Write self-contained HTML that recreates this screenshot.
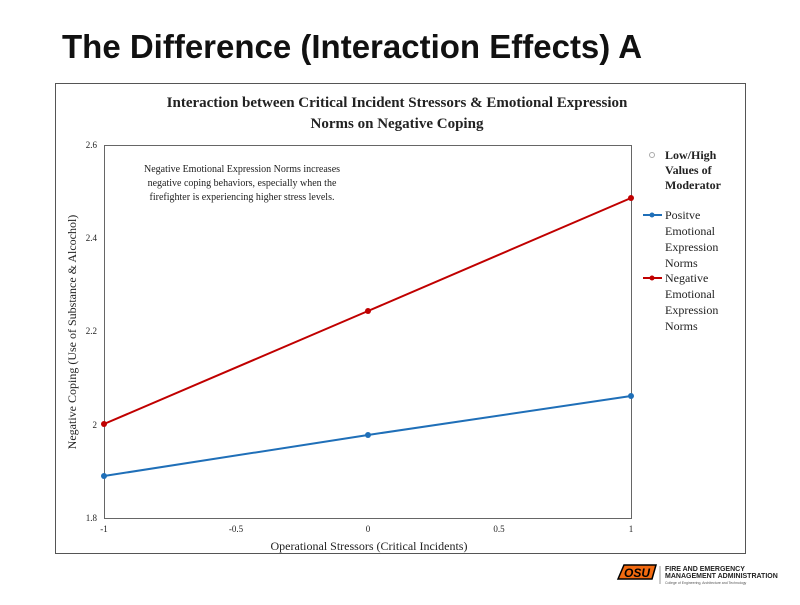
<!DOCTYPE html>
<html><head><style>
body{margin:0;width:800px;height:600px;background:#fff;overflow:hidden;font-family:"Liberation Sans",sans-serif}
</style></head><body>
<svg width="800" height="600" xmlns="http://www.w3.org/2000/svg">
<text x="62" y="58" font-family="Liberation Sans" font-weight="bold" font-size="33" fill="#111">The Difference (Interaction Effects) A</text>
<rect x="55.5" y="83.5" width="690" height="470" fill="#fff" stroke="#555" stroke-width="1"/>
<g font-family="Liberation Serif" fill="#222">
<text x="397" y="107" text-anchor="middle" font-size="15" font-weight="bold">Interaction between Critical Incident Stressors &amp; Emotional Expression</text>
<text x="397" y="128" text-anchor="middle" font-size="15" font-weight="bold">Norms on Negative Coping</text>
<rect x="104.5" y="145.5" width="527" height="373" fill="none" stroke="#666"/>
<g font-size="9" text-anchor="end">
<text x="97" y="148">2.6</text><text x="97" y="241">2.4</text><text x="97" y="334">2.2</text><text x="97" y="428">2</text><text x="97" y="521">1.8</text>
</g>
<g font-size="9" text-anchor="middle">
<text x="104" y="532">-1</text><text x="236" y="532">-0.5</text><text x="368" y="532">0</text><text x="499" y="532">0.5</text><text x="631" y="532">1</text>
</g>
<text x="369" y="550" text-anchor="middle" font-size="12">Operational Stressors (Critical Incidents)</text>
<text transform="translate(76,332) rotate(-90)" text-anchor="middle" font-size="12">Negative Coping (Use of Substance &amp; Alcochol)</text>
<g font-size="10" text-anchor="middle">
<text x="242" y="172">Negative Emotional Expression Norms increases</text>
<text x="242" y="186">negative coping behaviors, especially when the</text>
<text x="242" y="200">firefighter is experiencing higher stress levels.</text>
</g>
<polyline points="104,476 368,435 631,396" fill="none" stroke="#1f6fb8" stroke-width="2"/>
<polyline points="104,424 368,311 631,198" fill="none" stroke="#c00000" stroke-width="2"/>
<g fill="#1f6fb8"><circle cx="104" cy="476" r="3"/><circle cx="368" cy="435" r="3"/><circle cx="631" cy="396" r="3"/></g>
<g fill="#c00000"><circle cx="104" cy="424" r="3"/><circle cx="368" cy="311" r="3"/><circle cx="631" cy="198" r="3"/></g>
<circle cx="652" cy="155" r="2.5" fill="none" stroke="#aaa"/>
<g font-size="12" font-weight="bold"><text x="665" y="159">Low/High</text><text x="665" y="174">Values of</text><text x="665" y="189">Moderator</text></g>
<line x1="643" y1="215" x2="662" y2="215" stroke="#1f6fb8" stroke-width="2"/><circle cx="652" cy="215" r="2.5" fill="#1f6fb8"/>
<line x1="643" y1="278" x2="662" y2="278" stroke="#c00000" stroke-width="2"/><circle cx="652" cy="278" r="2.5" fill="#c00000"/>
<g font-size="12"><text x="665" y="219">Positve</text><text x="665" y="235">Emotional</text><text x="665" y="251">Expression</text><text x="665" y="267">Norms</text>
<text x="665" y="282">Negative</text><text x="665" y="298">Emotional</text><text x="665" y="314">Expression</text><text x="665" y="330">Norms</text></g>
</g>
<g transform="translate(618,563)">
<path d="M0,16 L6,2 L38,2 L34,16 Z" fill="#f26a10" stroke="#000" stroke-width="1.5"/>
<text x="19" y="14" text-anchor="middle" font-size="12" font-weight="bold" font-style="italic" fill="#000" font-family="Liberation Sans">OSU</text>
</g>
<line x1="660" y1="566" x2="660" y2="584" stroke="#999"/>
<g font-family="Liberation Sans" font-weight="bold" font-size="7" fill="#222">
<text x="665" y="571">FIRE AND EMERGENCY</text><text x="665" y="578">MANAGEMENT ADMINISTRATION</text>
</g>
<text x="665" y="584" font-family="Liberation Sans" font-size="3.5" fill="#555">College of Engineering, Architecture and Technology</text>
</svg>
</body></html>
